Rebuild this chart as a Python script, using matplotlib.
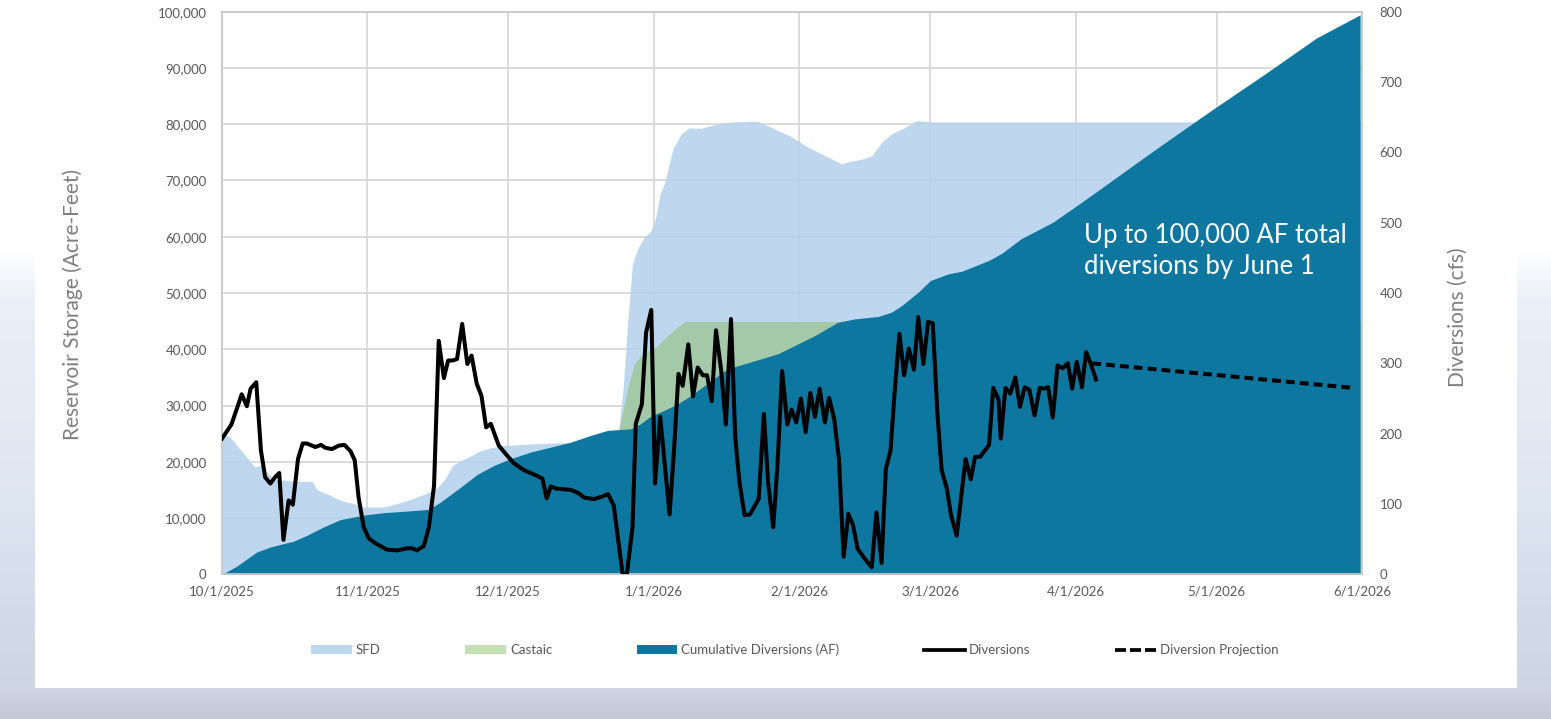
import matplotlib
matplotlib.use("Agg")
import matplotlib.pyplot as plt
import matplotlib.dates as mdates
from matplotlib.patches import Patch, Rectangle
from matplotlib.lines import Line2D
from matplotlib.ticker import FuncFormatter, MultipleLocator
import numpy as np
import pandas as pd

plt.rcParams["font.family"] = ["Lato", "DejaVu Sans"]

START = pd.Timestamp("2025-10-01")
END = pd.Timestamp("2026-06-01")

# all x values are day offsets from 10/1/2025
DIV_DAYS = [0, 2, 3.3, 4.2, 5.3, 6.1, 7.3, 8.3, 9.2, 10.3, 11.3, 12.2, 13.1, 14.2, 15.1,
            16.2, 17.2, 18.1, 19.9, 21.1, 22, 23.4, 24.9, 26.1, 27.4, 28.3, 29.1, 30.2,
            31.3, 32.7, 33.8, 35.2, 37.3, 39.5, 40.5, 41.5, 43, 44.1, 45.2, 46.2, 47.3,
            48.2, 49.1, 50.1, 51.2, 52.3, 53.2, 54.3, 55.3, 56.3, 57.3, 59, 60.5, 62.2,
            64.4, 66.5, 68.3, 69.2, 70.1, 71.2, 72.5, 74.4, 76.1, 77.2, 79.3, 80.8, 82.3,
            83.5, 85.4, 86.3, 87.5, 88.2, 89.5, 90.4, 91.5, 92.3, 93.4, 94.3, 95.4, 96.3,
            97.3, 98.2, 99.4, 100.4, 101.4, 102.5, 103.4, 104.4, 105.3, 106.4, 107.4,
            108.5, 109.4, 110.3, 111.4, 112.5, 114.4, 115.5, 116.4, 117.5, 118.4, 119.4,
            120.5, 121.4, 122.4, 123.4, 124.4, 125.4, 126.4, 127.4, 128.5, 129.4, 130.5,
            131.5, 132.5, 133.5, 134.5, 135.5, 136.5, 137.5, 138.5, 139.5, 140.6, 141.5,
            142.5, 143.4, 144.4, 145.4, 146.4, 147.5, 148.4, 149.5, 150.5, 151.5, 152.5,
            153.4, 154.5, 155.4, 156.6, 157.6, 158.5, 159.6, 160.5, 161.6, 162.5, 163.5,
            164.4, 165.5, 166.0, 167.0, 168.0, 169.1, 170.1, 171.1, 172.1, 173.2, 174.3,
            175.2, 176.1, 177.1, 178.1, 179.2, 180.3, 181.2, 182.2, 183.3, 184.2, 185.2,
            186.3]
DIV_CFS = [193, 213, 238, 256, 239, 264, 273, 176, 138, 129, 138, 144, 49, 105, 99,
           164, 186, 186, 181, 184, 180, 178, 183, 184, 175, 162, 110, 67,
           51, 44, 40, 35, 34, 37, 37, 34, 40, 67, 126, 332, 279,
           304, 304, 306, 356, 299, 311, 271, 254, 209, 214, 183, 171, 158,
           148, 142, 136, 108, 125, 122, 121, 120, 115, 109, 107, 110, 114,
           98, 0, 0, 67, 214, 242, 344, 376, 129, 224, 162, 85, 171,
           285, 268, 327, 253, 294, 283, 283, 246, 347, 290, 213,
           363, 195, 131, 84, 85, 107, 228, 131, 67, 155, 289,
           213, 234, 216, 250, 202, 258, 224, 264, 216, 251, 221,
           164, 25, 86, 70, 36, 27, 18, 10, 88, 16, 150,
           176, 261, 342, 283, 321, 291, 366, 299, 359, 357, 228,
           148, 122, 84, 55, 112, 164, 135, 167, 167, 175, 184,
           265, 249, 193, 265, 257, 280, 238, 266, 262, 226, 265,
           264, 266, 223, 297, 293, 300, 264, 302, 266, 316, 299,
           277]

PROJ_DAYS = [185.5, 241.2]
PROJ_CFS = [300, 265]

SFD_DAYS = [0, 1.7, 7, 8.1, 9.5, 11.3, 13.8, 16, 19.2, 20.2, 23.1, 25.2, 28.1, 30.2,
            34.5, 37.3, 40.2, 43.7, 45.9, 47.3, 49.1, 50.5, 53, 54.8, 57.3, 60.1, 66.5,
            72.9, 84.3, 85.5, 86.5, 87.5, 88.6, 90, 91.5, 92.3, 93.4, 94.4, 96.1, 97.9,
            99.6, 102.1, 105, 108.5, 114.2, 117.1, 119.6, 121, 124.6, 128.5, 132.1,
            133.8, 136, 138.5, 140.6, 142.7, 145.6, 148.1, 151.3, 242.6]
SFD_AF = [25000, 24400, 19060, 19360, 18170, 16820, 16700, 16520, 16520, 15040, 14030,
          13140, 12560, 11960, 11960, 12560, 13320, 14440, 15400, 16700, 19240, 20070,
          21010, 21850, 22500, 22910, 23200, 23390, 23600, 33000, 45000, 55190, 57850,
          59910, 61100, 62880, 67620, 69680, 75610, 78280, 79340, 79280, 79930, 80400,
          80520, 79450, 78450, 77980, 76080, 74420, 72940, 73410, 73710, 74360, 76790,
          78280, 79450, 80640, 80400, 80400]

CASTAIC_DAYS = [84.7, 86.5, 87.9, 90, 92.5, 95, 98.4, 99, 242.6]
CASTAIC_AF = [25900, 33270, 37420, 39490, 40370, 42450, 44810, 44940, 44940]

CUM_DAYS = [0, 3.1, 7.4, 10.3, 13.1, 15.2, 18.1, 21.6, 25.2, 28.1, 30.9, 34.5, 41.6,
            44.1, 46.6, 50.9, 54.4, 58, 61.5, 65.8, 70.1, 74.4, 78.6, 82.2, 87.2, 89.3,
            91.1, 95, 97.2, 100, 104.3, 107.8, 111.4, 115.7, 118.5, 122.1, 126.4, 131.3,
            134.9, 139.9, 142.7, 144.9, 148.4, 151, 154.8, 157.7, 163.4, 166.2, 170.3,
            177.1, 182.5, 188.4, 199.6, 210.8, 222.1, 233.3, 242.6]
CUM_AF = [0, 1420, 3960, 4850, 5450, 5860, 6930, 8400, 9710, 10180, 10600, 10960, 11370,
          11550, 12850, 15510, 17760, 19360, 20550, 21730, 22610, 23500, 24690, 25580,
          25870, 26800, 27940, 29430, 30320, 31790, 34460, 36540, 37420, 38490, 39200,
          40670, 42450, 44810, 45400, 45830, 46590, 47780, 50140, 52220, 53400, 53870,
          55770, 57050, 59630, 62580, 65700, 69210, 75900, 82420, 88810, 95330, 99450]

C_SFD = "#BDD7EE"
C_CASTAIC_AREA = "#A3C9A8"
C_CASTAIC = "#C5E0B4"
C_CUM = "#0D77A0"
GRID = "#D9D9D9"
TXT = "#595959"


def to_dates(days):
    return START + pd.to_timedelta(np.asarray(days, dtype=float), unit="D")


fig = plt.figure(figsize=(15.51, 7.19), dpi=100)

# faded photo-ish backdrop with a white panel on top
bg = fig.add_axes([0, 0, 1, 1], zorder=-10)
ys = np.array([0, 250, 300, 500, 688, 719])
cols = np.array([[255, 255, 255], [255, 255, 255], [234, 240, 248],
                 [222, 230, 242], [205, 212, 226], [196, 201, 213]]) / 255
yy = np.arange(719)
grad = np.stack([np.interp(yy, ys, cols[:, k]) for k in range(3)], axis=-1)
bg.imshow(grad[:, None, :], aspect="auto", extent=[0, 1, 0, 1], origin="upper")
bg.add_patch(Rectangle((35 / 1551, 1 - 688 / 719), (1517 - 35) / 1551, 688 / 719,
                       transform=bg.transAxes, facecolor="white", edgecolor="none"))
bg.set_axis_off()

ax = fig.add_axes([222 / 1551, 1 - 574.3 / 719, 1140 / 1551, 562.6 / 719])
ax.set_facecolor("none")
ax.set_axisbelow(True)

ax.fill_between(to_dates(SFD_DAYS), SFD_AF, 0, color="#B5D2EC", alpha=0.88, lw=0)
ax.fill_between(to_dates(CASTAIC_DAYS), CASTAIC_AF, 0, color=C_CASTAIC_AREA, lw=0)
ax.fill_between(to_dates(CUM_DAYS), CUM_AF, 0, color=C_CUM, lw=0)

ax.set_xlim(START, END)
ax.set_ylim(0, 100000)
ax.yaxis.set_major_locator(MultipleLocator(10000))
ax.yaxis.set_major_formatter(FuncFormatter(lambda v, _: f"{v:,.0f}"))
ax.xaxis.set_major_locator(mdates.MonthLocator())
ax.xaxis.set_major_formatter(
    FuncFormatter(lambda v, _: (lambda d: f"{d.month}/{d.day}/{d.year}")(mdates.num2date(v))))
ax.grid(True, color=GRID, lw=1.3)
for s in ax.spines.values():
    s.set_color("#C8C8C8")
    s.set_linewidth(1.3)
ax.tick_params(axis="both", length=0, colors=TXT, labelsize=9.5)
ax.tick_params(axis="y", pad=11)
ax.tick_params(axis="x", pad=8)
ax.set_ylabel("Reservoir Storage (Acre-Feet)", color="#7F7F7F", fontsize=15)
ax.yaxis.set_label_coords(-0.122, 0.479)

ax2 = ax.twinx()
ax2.set_ylim(0, 800)
ax2.yaxis.set_major_locator(MultipleLocator(100))
ax2.plot(to_dates(DIV_DAYS), DIV_CFS, color="black", lw=2.9, solid_joinstyle="round")
ax2.plot(to_dates(PROJ_DAYS), PROJ_CFS, color="black", lw=2.9, dashes=(2.2, 1.25))
for s in ax2.spines.values():
    s.set_visible(False)
ax2.tick_params(axis="y", length=0, colors=TXT, labelsize=9.5, pad=12.5)
ax2.set_ylabel("Diversions (cfs)", color="#7F7F7F", fontsize=15, rotation=90)
ax2.yaxis.set_label_coords(1.0754, 0.457)

fig.text(1084 / 1551, 1 - 223 / 719, "Up to 100,000 AF total\ndiversions by June 1",
         color="white", fontsize=18.5, va="top", ha="left", linespacing=1.32)

handles = [
    Patch(facecolor=C_SFD, edgecolor="none"),
    Patch(facecolor=C_CASTAIC, edgecolor="none"),
    Patch(facecolor=C_CUM, edgecolor="none"),
    Line2D([], [], color="black", lw=2.7),
    Line2D([], [], color="black", lw=2.7, dashes=(2.93, 1.07)),
]
labels = ["SFD", "Castaic", "Cumulative Diversions (AF)", "Diversions", "Diversion Projection"]
leg = fig.legend(handles, labels, loc="center", bbox_to_anchor=(0.5123, 1 - 650 / 719),
                 ncol=5, frameon=False, fontsize=9.5, handlelength=3.1, handleheight=0.68,
                 handletextpad=0.3, columnspacing=6.4)
for t in leg.get_texts():
    t.set_color(TXT)

fig.savefig("out.png", dpi=100)
